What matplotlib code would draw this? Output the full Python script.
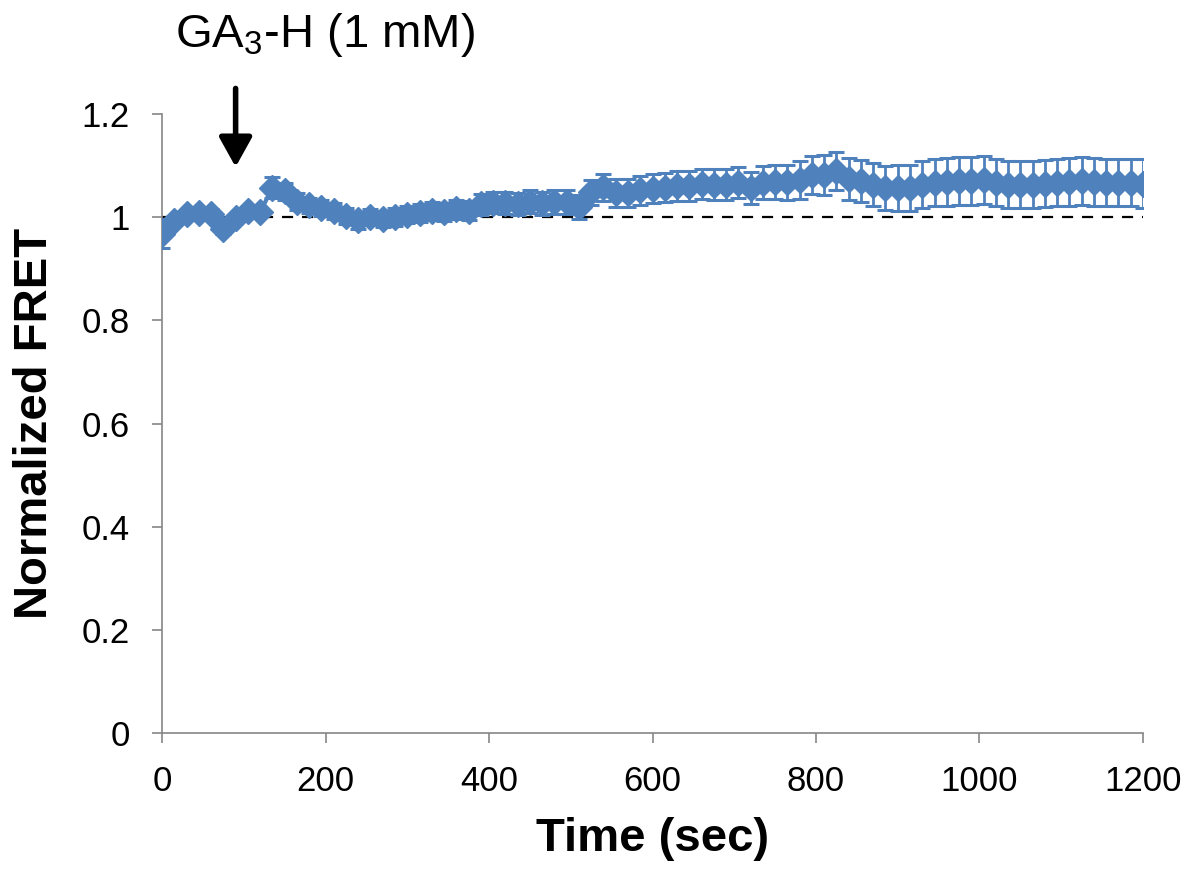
import numpy as np
import matplotlib
matplotlib.use('Agg')
import matplotlib.pyplot as plt

plt.rcParams['font.family'] = ['Liberation Sans', 'DejaVu Sans']
plt.rcParams['mathtext.fontset'] = 'custom'
plt.rcParams['mathtext.rm'] = 'Liberation Sans'

# time points (sec), every 15 s
time_sec = np.arange(0, 1201, 15)

fret = [0.968, 0.993, 1.006, 1.009, 1.007, 0.977, 0.998, 1.012, 1.010,
        1.057, 1.050, 1.030, 1.023, 1.018, 1.012, 1.002, 0.994, 1.000,
        0.997, 1.000, 1.005, 1.008, 1.012, 1.010, 1.015, 1.013, 1.025,
        1.028, 1.027, 1.026, 1.030, 1.027, 1.030, 1.030, 1.020, 1.048,
        1.058, 1.047, 1.047, 1.052, 1.055, 1.057, 1.060, 1.060, 1.065,
        1.063, 1.063, 1.067, 1.057, 1.067, 1.068, 1.068, 1.072, 1.082,
        1.082, 1.090, 1.074, 1.070, 1.063, 1.057, 1.057, 1.057, 1.063,
        1.067, 1.068, 1.070, 1.070, 1.072, 1.067, 1.063, 1.063, 1.063,
        1.065, 1.067, 1.068, 1.070, 1.068, 1.067, 1.067, 1.067, 1.065]

err = [0.028, 0.008, 0.006, 0.007, 0.008, 0.010, 0.008, 0.007, 0.008,
       0.020, 0.016, 0.016, 0.015, 0.015, 0.015, 0.015, 0.016, 0.016,
       0.016, 0.017, 0.017, 0.017, 0.018, 0.018, 0.018, 0.019, 0.020,
       0.020, 0.021, 0.021, 0.022, 0.022, 0.023, 0.023, 0.024, 0.025,
       0.026, 0.027, 0.027, 0.028, 0.028, 0.028, 0.029, 0.029, 0.029,
       0.030, 0.030, 0.030, 0.031, 0.032, 0.033, 0.034, 0.036, 0.037,
       0.038, 0.037, 0.040, 0.041, 0.042, 0.043, 0.044, 0.045, 0.045,
       0.045, 0.046, 0.046, 0.046, 0.046, 0.046, 0.046, 0.046, 0.046,
       0.046, 0.046, 0.046, 0.046, 0.046, 0.046, 0.046, 0.046, 0.047]

x_ticks = [0, 200, 400, 600, 800, 1000, 1200]
y_ticks = [0, 0.2, 0.4, 0.6, 0.8, 1.0, 1.2]
y_tick_labels = ['0', '0.2', '0.4', '0.6', '0.8', '1', '1.2']

blue = '#4F81BD'
grey = '#868686'

fig = plt.figure(figsize=(11.88, 8.82), dpi=100)
ax = fig.add_axes([0.1364, 0.1689, 0.8257, 0.7018])

ax.plot([0, 1200], [1, 1], color='black', lw=1.6, linestyle=(0, (5, 4)), zorder=1)
ax.errorbar(time_sec, fret, yerr=err, color=blue, ecolor=blue, elinewidth=2.0,
            capsize=6, capthick=2.2, lw=3, marker='D', markersize=13,
            markeredgecolor=blue, zorder=3)

ax.set_xlim(0, 1200)
ax.set_ylim(0, 1.2)
ax.set_xticks(x_ticks)
ax.set_yticks(y_ticks)
ax.set_yticklabels(y_tick_labels)

for s in ['top', 'right']:
    ax.spines[s].set_visible(False)
for s in ['left', 'bottom']:
    ax.spines[s].set_color(grey)
    ax.spines[s].set_linewidth(1.2)
ax.tick_params(axis='both', direction='out', length=7, width=1.2, color=grey,
               labelsize=25, labelcolor='black')
ax.tick_params(axis='y', pad=16)
ax.tick_params(axis='x', pad=16)

ax.set_xlabel('Time (sec)', fontsize=34, fontweight='bold', labelpad=14)
ax.set_ylabel('Normalized FRET', fontsize=34, fontweight='bold', labelpad=18)

# treatment arrow and label
ax.annotate('', xy=(90, 1.092), xytext=(90, 1.255),
            arrowprops=dict(arrowstyle='-|>,head_length=0.9,head_width=0.5',
                            mutation_scale=20, lw=4, color='black'),
            annotation_clip=False)
ax.text(199, 1.33, r'GA$_\mathregular{3}$-H (1 mM)', fontsize=34,
        ha='center', va='baseline', clip_on=False)

fig.savefig('out.png', dpi=100)
